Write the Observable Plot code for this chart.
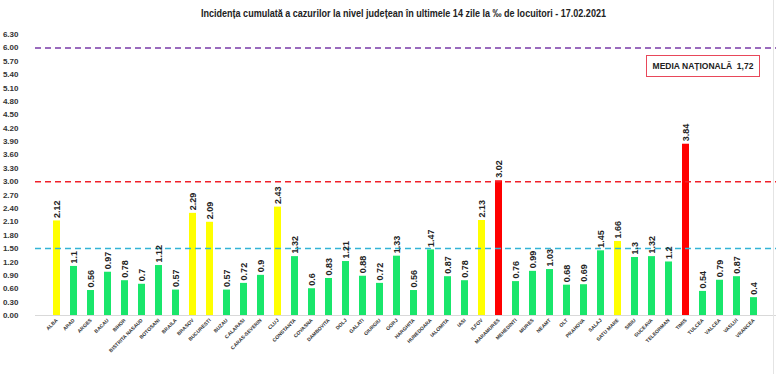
<!DOCTYPE html>
<html>
<head>
<meta charset="utf-8">
<script src="https://cdn.jsdelivr.net/npm/d3@7"></script>
<script src="https://cdn.jsdelivr.net/npm/@observablehq/plot@0.6"></script>
<style>
  html, body { margin: 0; padding: 0; background: #fff; }
  #wrap { position: relative; width: 776px; height: 374px; overflow: hidden; font-family: "Liberation Sans", Arial, sans-serif; }
  #title { height: 24px; line-height: 26px; text-align: center; padding-left: 30px; font-weight: bold; font-size: 10.5px; color: #222; }
  #title span { display: inline-block; transform: scaleX(0.86); transform-origin: center; white-space: nowrap; }
  #legend { position: absolute; left: 646px; top: 55px; width: 114px; height: 22px; border: 1px solid #e8485a; box-sizing: border-box; font-weight: bold; font-size: 8.5px; line-height: 20px; text-align: center; color: #222; white-space: pre; }
  #frameR { position: absolute; left: 773px; top: 0; width: 1px; height: 374px; background: #e4e4e4; }
</style>
</head>
<body>
<div id="wrap">
  <div id="title"><span>Incidența cumulată a cazurilor la nivel județean în ultimele 14 zile la ‰ de locuitori - 17.02.2021</span></div>
  <div id="chart"></div>
  <div id="legend">MEDIA NAȚIONALĂ  1,72</div>
  <div id="frameR"></div>
</div>
<script>
const counties = ["ALBA","ARAD","ARGES","BACAU","BIHOR","BISTRITA NASAUD","BOTOSANI","BRAILA","BRASOV","BUCURESTI","BUZAU","CALARASI","CARAS-SEVERIN","CLUJ","CONSTANTA","COVASNA","DAMBOVITA","DOLJ","GALATI","GIURGIU","GORJ","HARGHITA","HUNEDOARA","IALOMITA","IASI","ILFOV","MARAMURES","MEHEDINTI","MURES","NEAMT","OLT","PRAHOVA","SALAJ","SATU MARE","SIBIU","SUCEAVA","TELEORMAN","TIMIS","TULCEA","VALCEA","VASLUI","VRANCEA"];
const values = [2.12,1.1,0.56,0.97,0.78,0.7,1.12,0.57,2.29,2.09,0.57,0.72,0.9,2.43,1.32,0.6,0.83,1.21,0.88,0.72,1.33,0.56,1.47,0.87,0.78,2.13,3.02,0.76,0.99,1.03,0.68,0.69,1.45,1.66,1.3,1.32,1.2,3.84,0.54,0.79,0.87,0.4];
const yTicks = [0,0.3,0.6,0.9,1.2,1.5,1.8,2.1,2.4,2.7,3.0,3.3,3.6,3.9,4.2,4.5,4.8,5.1,5.4,5.7,6.0,6.3];
const thresholds = [1.5, 3.0, 6.0];
const thresholdColors = ["#33b5d6", "#f0202a", "#7a3aa8"];

const data = counties.map((c, i) => ({county: c, value: values[i]}));
const colorOf = v => v >= thresholds[1] ? "#ff0000" : v >= thresholds[0] ? "#ffff00" : "#19e66b";

const chart = Plot.plot({
  width: 776,
  height: 350,
  marginLeft: 35,
  marginRight: 0,
  marginTop: 10,
  marginBottom: 59,
  style: {fontFamily: "'Liberation Sans', Arial, sans-serif", background: "#fff"},
  x: {domain: counties, paddingInner: 0.58, paddingOuter: 0.29, label: null},
  y: {domain: [0, 6.3], label: null},
  marks: [
    Plot.ruleY([0], {stroke: "#d9d9d9", strokeWidth: 1}),
    Plot.barY(data, {x: "county", y: "value", fill: d => colorOf(d.value)}),
    Plot.ruleY(thresholds, {stroke: (d, i) => thresholdColors[i], strokeWidth: 1.5, strokeDasharray: "6,4"}),
    Plot.text(data, {x: "county", y: "value", text: d => String(d.value), rotate: -90, textAnchor: "start", lineAnchor: "middle", dy: -3, fontSize: 9, fontWeight: "bold", fill: "#222"}),
    Plot.axisY({ticks: yTicks, tickFormat: d => d.toFixed(2), tickSize: 0, tickPadding: 17, fontSize: 8, fontWeight: "bold", fill: "#333"}),
    Plot.axisX({tickRotate: -45, tickSize: 0, tickPadding: 4, fontSize: 5, fontWeight: "bold", fill: "#333"})
  ]
});
document.getElementById("chart").appendChild(chart);
</script>
</body>
</html>
